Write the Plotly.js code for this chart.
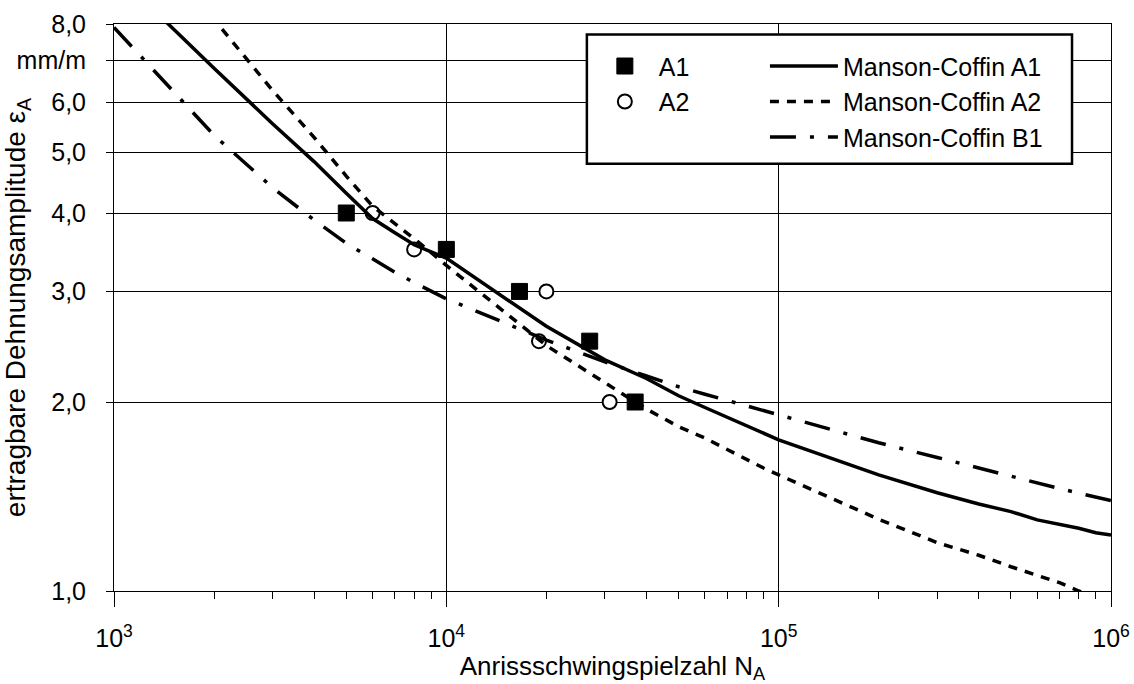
<!DOCTYPE html>
<html>
<head>
<meta charset="utf-8">
<script src="https://cdn.plot.ly/plotly-3.0.1.min.js"></script>
<style>html,body{margin:0;padding:0;background:#fff;}#chart{width:1134px;height:684px;}</style>
</head>
<body>
<div id="chart"></div>
<script>
// Test points
const N_A1 = [5000, 10000, 16600, 27000, 37000];
const eps_A1 = [4.0, 3.5, 3.0, 2.5, 2.0];
const N_A2 = [6000, 8000, 19000, 20000, 31000];
const eps_A2 = [4.0, 3.5, 2.5, 3.0, 2.0];

// Manson-Coffin curves
const N_curve = [1000, 2000, 3000, 4000, 5000, 6000, 7000, 8000, 9000,
  10000, 20000, 30000, 40000, 50000, 60000, 70000, 80000, 90000,
  100000, 200000, 300000, 400000, 500000, 600000, 700000, 800000, 900000, 1000000];
const mc_A1 = [9.7, 6.8, 5.55, 4.83, 4.30, 3.92, 3.72, 3.56, 3.47,
  3.39, 2.64, 2.334, 2.18, 2.046, 1.96, 1.891, 1.832, 1.784,
  1.741, 1.531, 1.434, 1.376, 1.338, 1.298, 1.277, 1.259, 1.238, 1.228];
const mc_A2 = [12.7, 8.15, 6.27, 5.28, 4.58, 4.1, 3.85, 3.64, 3.46,
  3.30, 2.46, 2.143, 1.949, 1.827, 1.752, 1.68, 1.618, 1.57,
  1.531, 1.301, 1.194, 1.14, 1.093, 1.06, 1.031, 1.0, 0.98, 0.96];
const mc_B1 = [7.9, 5.32, 4.39, 3.90, 3.58, 3.38, 3.22, 3.10, 3.00,
  2.92, 2.51, 2.317, 2.20, 2.115, 2.058, 2.012, 1.972, 1.938,
  1.908, 1.722, 1.632, 1.570, 1.520, 1.485, 1.456, 1.432, 1.411, 1.393];

// Tick labels
const xTickVals = [1e3, 1e4, 1e5, 1e6];
const xTickText = ['10<sup>3</sup>', '10<sup>4</sup>', '10<sup>5</sup>', '10<sup>6</sup>'];
const yTickVals = [1, 2, 3, 4, 5, 6, 7, 8];
const yTickText = ['1,0', '2,0', '3,0', '4,0', '5,0', '6,0', 'mm/m', '8,0'];

const FONT = 'Liberation Sans, Arial, sans-serif';

const minorX = [];
for (let d = 1e3; d < 1e6; d *= 10) { for (let k = 2; k <= 9; k++) minorX.push(k * d); }

const traces = [
  {x: N_A1, y: eps_A1, name: 'A1', type: 'scatter', mode: 'markers', legend: 'legend',
   marker: {symbol: 'square', size: 16, color: '#000', line: {color: '#000', width: 1}}},
  {x: N_A2, y: eps_A2, name: 'A2', type: 'scatter', mode: 'markers', legend: 'legend',
   marker: {symbol: 'circle', size: 14, color: '#fff', line: {color: '#000', width: 2}}},
  {x: N_curve, y: mc_A1, name: 'Manson-Coffin A1', type: 'scatter', mode: 'lines', legend: 'legend2',
   line: {color: '#000', width: 3.5}},
  {x: N_curve, y: mc_A2, name: 'Manson-Coffin A2', type: 'scatter', mode: 'lines', legend: 'legend2',
   line: {color: '#000', width: 3.5, dash: '9px,8px'}},
  {x: N_curve, y: mc_B1, name: 'Manson-Coffin B1', type: 'scatter', mode: 'lines', legend: 'legend2',
   line: {color: '#000', width: 3.5, dash: '26px,14px,4px,14px'}}
];

const layout = {
  width: 1134, height: 684,
  margin: {l: 114, r: 23, t: 24, b: 93},
  paper_bgcolor: '#fff', plot_bgcolor: '#fff',
  font: {family: FONT, size: 25, color: '#000'},
  xaxis: {
    type: 'log', range: [3, 6],
    tickmode: 'array', tickvals: xTickVals, ticktext: xTickText,
    ticks: 'outside', ticklen: 15, tickwidth: 1, tickcolor: '#000',
    ticklabelstandoff: 10,
    showgrid: true, gridcolor: '#000', gridwidth: 1,
    showline: true, linecolor: '#000', linewidth: 1, mirror: true,
    zeroline: false,
    tickfont: {family: FONT, size: 25, color: '#000'},
    minor: {tickmode: 'array', tickvals: minorX, ticks: 'outside', ticklen: 7, tickcolor: '#000', showgrid: false},
    title: {text: 'Anrissschwingspielzahl N<sub>A</sub>', font: {family: FONT, size: 26, color: '#000'}, standoff: 4}
  },
  yaxis: {
    type: 'log', range: [0, Math.log10(8)],
    tickmode: 'array', tickvals: yTickVals, ticktext: yTickText,
    ticks: 'outside', ticklen: 7, tickwidth: 1, tickcolor: '#000',
    ticklabelstandoff: 15,
    showgrid: true, gridcolor: '#000', gridwidth: 1,
    showline: true, linecolor: '#000', linewidth: 1, mirror: true,
    zeroline: false,
    tickfont: {family: FONT, size: 25, color: '#000'},
    title: {text: 'ertragbare Dehnungsamplitude ε<sub>A</sub>', font: {family: FONT, size: 28, color: '#000'}, standoff: 0}
  },
  showlegend: true,
  legend: {x: 0.4783, y: 0.966, xanchor: 'left', yanchor: 'top', bgcolor: 'rgba(0,0,0,0)', borderwidth: 0,
    font: {family: FONT, size: 25, color: '#000'}, itemwidth: 58, tracegroupgap: 0},
  legend2: {x: 0.6529, y: 0.966, xanchor: 'left', yanchor: 'top', bgcolor: 'rgba(0,0,0,0)', borderwidth: 0,
    font: {family: FONT, size: 25, color: '#000'}, itemwidth: 68, tracegroupgap: 0},
  shapes: [
    {type: 'rect', xref: 'paper', yref: 'paper', x0: 0.4743, x1: 0.9609, y0: 0.7537, y1: 0.9815,
     line: {color: '#000', width: 2.5}, fillcolor: '#fff', layer: 'above'}
  ]
};

Plotly.newPlot('chart', traces, layout, {displayModeBar: false, staticPlot: true});
</script>
</body>
</html>
